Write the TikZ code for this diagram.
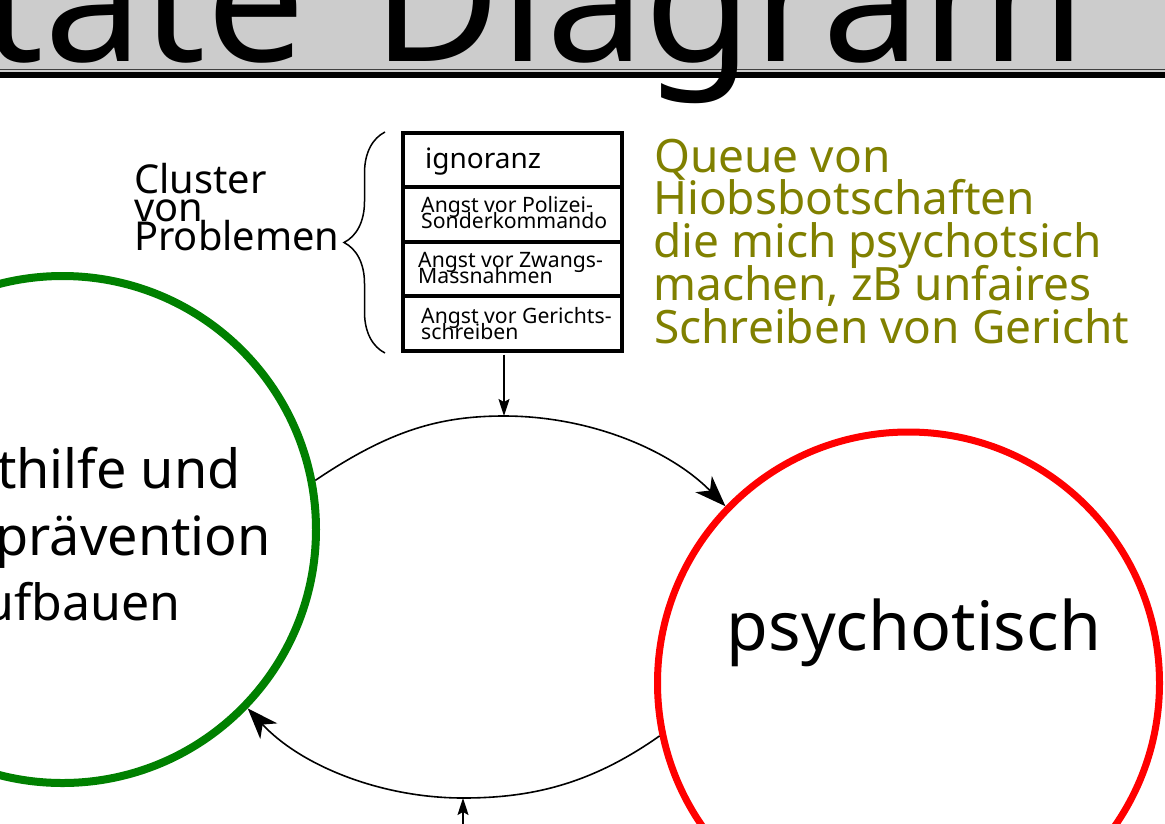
\documentclass[tikz,border=0pt]{standalone}
\usepackage{fontspec}
\setmainfont{Noto Sans}
\usetikzlibrary{arrows.meta,decorations.pathreplacing}
\definecolor{titlegray}{HTML}{CCCCCC}
\definecolor{olivetext}{HTML}{808000}
\definecolor{stategreen}{HTML}{008000}
\definecolor{statered}{HTML}{FF0000}
\begin{document}
\begin{tikzpicture}[x=1pt,y=-1pt,
  every node/.style={inner sep=0pt},
  ftitle/.style={font=\fontsize{176}{176}\selectfont},
  fcluster/.style={font=\fontsize{39.8}{39.8}\selectfont, anchor=base west},
  fbig/.style={font=\fontsize{28}{28}\selectfont, anchor=base west},
  fsmall/.style={font=\fontsize{21.2}{21.2}\selectfont, anchor=base west},
  fqueue/.style={font=\fontsize{46}{46}\selectfont, text=olivetext, anchor=base west},
  fgreen/.style={font=\fontsize{54}{54}\selectfont, anchor=base east},
  fred/.style={font=\fontsize{68}{68}\selectfont, anchor=base},
  rowbox/.style={draw, line width=4pt, rectangle, minimum width=218.5pt, minimum height=54.4pt, outer sep=0pt},
  gstate/.style={draw=stategreen, line width=8pt, circle, minimum size=507pt},
  rstate/.style={draw=statered, line width=7pt, circle, minimum size=502pt},
  arc/.style={line width=1.6pt, -{Stealth[length=31pt,width=23pt,inset=9pt]}},
  thinarrow/.style={line width=1.5pt, -{Stealth[length=17pt,width=11pt,inset=3pt]}},
  bracestyle/.style={line width=1.5pt, decorate, decoration={brace, amplitude=41pt}}
]
\useasboundingbox (0,0) rectangle (1165,823);
\clip (0,0) rectangle (1165,823);
% title bar
\fill[titlegray] (0,0) rectangle (1165,72);
\draw[black!75, line width=1.2pt] (0,69.5) -- (1165,69.5);
\fill[black] (0,72) rectangle (1165,78);
\node[ftitle, anchor=base east] (title) at (1086,61) {State\hspace{0.12em} Diagram};
% cluster label
\node[fcluster] (cl1) at (134,193) {Cluster};
\node[fcluster] (cl2) at (134,221) {von};
\node[fcluster] (cl3) at (134,250) {Problemen};
% brace
\coordinate (bracebot) at (385,353);
\coordinate (bracetop) at (385,132);
\draw[bracestyle] (bracebot) -- (bracetop);
% box rows
\node[rowbox] (row1) at (512.25,160.2) {};
\node[rowbox] (row2) at (512.25,214.6) {};
\node[rowbox] (row3) at (512.25,269.0) {};
\node[rowbox] (row4) at (512.25,323.4) {};
\node[fbig] (t1) at (425,168) {ignoranz};
\node[fsmall] (t2a) at (421,212) {Angst vor Polizei-};
\node[fsmall] (t2b) at (421,228) {Sonderkommando};
\node[fsmall] (t3a) at (418,267) {Angst vor Zwangs-};
\node[fsmall] (t3b) at (418,283) {Massnahmen};
\node[fsmall] (t4a) at (421,323) {Angst vor Gerichts-};
\node[fsmall] (t4b) at (421,339) {schreiben};
% queue text
\node[fqueue] (q1) at (654,172) {Queue von};
\node[fqueue] (q2) at (653,214) {Hiobsbotschaften};
\node[fqueue] (q3) at (653,257) {die mich psychotsich};
\node[fqueue] (q4) at (653,300) {machen, zB unfaires};
\node[fqueue] (q5) at (654,343) {Schreiben von Gericht};
% states
\node[gstate] (green) at (62.5,529.5) {};
\node[fgreen] (g1) at (241,488) {Selbsthilfe und};
\node[fgreen] (g2) at (271,555) {Krisenprävention};
\node[fgreen, font=\fontsize{50}{50}\selectfont] (g3) at (181,620) {aufbauen};
\node[rstate] (red) at (908.5,683) {};
\node[fred] (r1) at (914,650) {psychotisch};
% transitions
\coordinate (toppeak) at (504,416);
\coordinate (botlow) at (463,798);
\coordinate (botin) at (463,840);
\draw[arc] (green.11) .. controls (390,430) and (440,416) .. (toppeak)
  .. controls (590,416) and (670,450) .. (red.136);
\draw[arc] (red.192) .. controls (590,785) and (530,798) .. (botlow)
  .. controls (380,798) and (300,765) .. (green.-44);
\draw[thinarrow, shorten <=4pt] (row4.south -| toppeak) -- (toppeak);
\draw[thinarrow] (botin) -- (botlow);
\end{tikzpicture}
\end{document}
